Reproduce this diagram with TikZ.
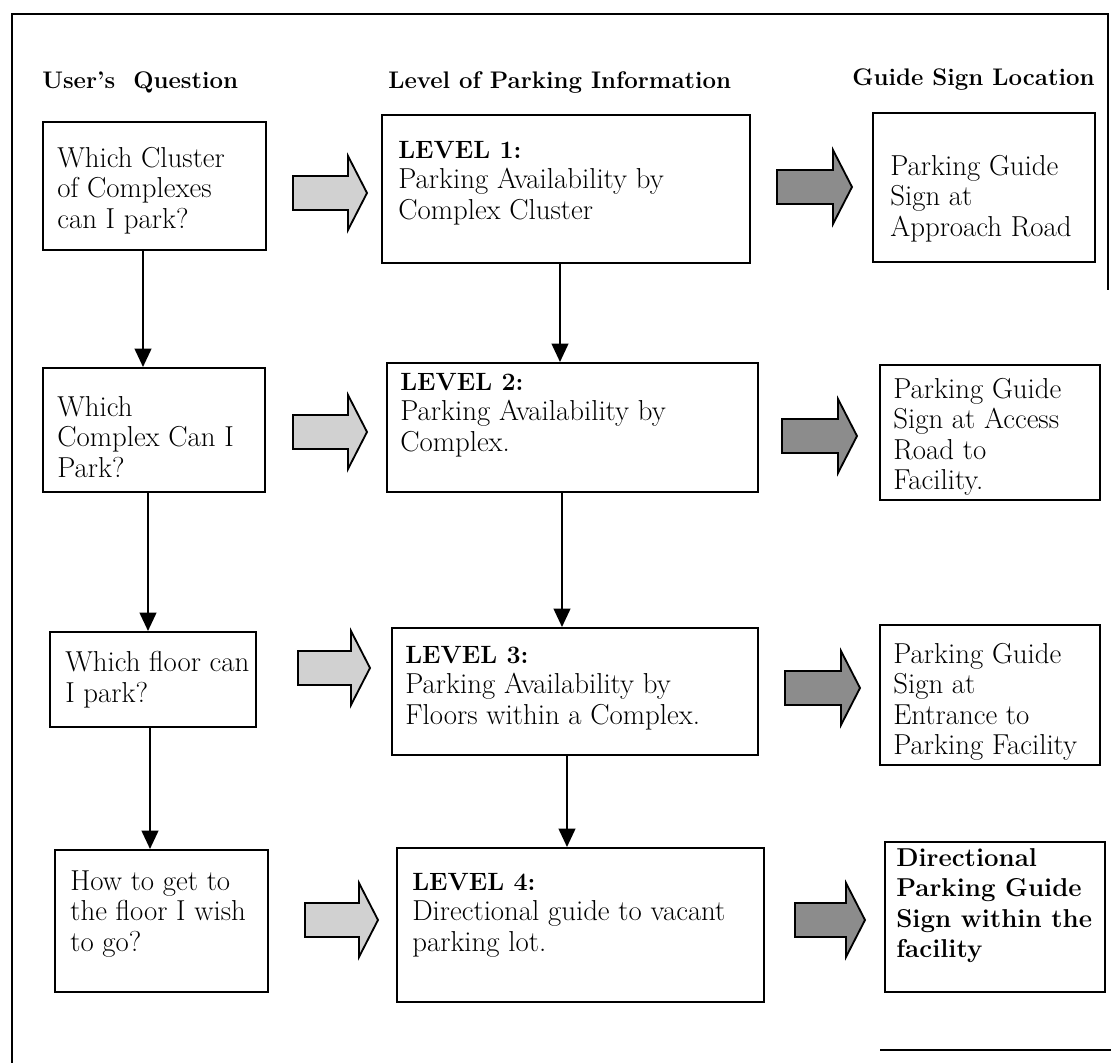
\documentclass[tikz,border=0pt]{standalone}
\usetikzlibrary{fit,arrows.meta}
\newcommand\blockarr[4]{%
  \draw[#1] ({#2},{#4-17}) -- ({#3-19},{#4-17}) -- ({#3-19},{#4-37}) -- ({#3},{#4})
    -- ({#3-19},{#4+37}) -- ({#3-19},{#4+17}) -- ({#2},{#4+17}) -- cycle;}
\newcommand\lvl[1]{{\fontsize{15}{18.3}\selectfont\bfseries #1}}
\begin{document}
\begin{tikzpicture}[x=0.6pt,y=-0.6pt,
  frameline/.style={line width=1.3pt},
  boxst/.style={draw, line width=1.2pt, inner sep=0pt},
  txt/.style={inner sep=0pt, anchor=north west, align=left, font=\fontsize{17.3}{18.3}\selectfont},
  btxt/.style={txt, font=\fontsize{15.5}{18.3}\selectfont\bfseries},
  hdr/.style={inner sep=0pt, anchor=base west, font=\fontsize{14.4}{17}\selectfont\bfseries},
  varrow/.style={line width=1.2pt, -{Triangle[length=11pt,width=10pt]}},
  lightarr/.style={draw, line width=1.1pt, fill=black!18},
  darkarr/.style={draw, line width=1.1pt, fill=black!45}]
\useasboundingbox (0,0) rectangle (1111,1063);
% outer frame
\draw[frameline] (12,1063) -- (12,14) -- (1108,14) -- (1108,290);
\draw[frameline] (880,1050) -- (1111,1050);
% headers
\node[hdr] (h1) at (42,89) {User’s\ \ Question};
\node[hdr] (h2) at (388,89) {Level of Parking Information};
\node[hdr] (h3) at (852,86) {Guide Sign Location};
% boxes
\node[boxst, fit={(43,122)(266,250)}] (u1) {};
\node[boxst, fit={(43,368)(265,492)}] (u2) {};
\node[boxst, fit={(50,632)(256,727)}] (u3) {};
\node[boxst, fit={(55,850)(268,992)}] (u4) {};
\node[boxst, fit={(382,115)(750,263)}] (l1) {};
\node[boxst, fit={(387,363)(758,492)}] (l2) {};
\node[boxst, fit={(392,628)(758,755)}] (l3) {};
\node[boxst, fit={(397,848)(764,1002)}] (l4) {};
\node[boxst, fit={(873,113)(1095,262)}] (g1) {};
\node[boxst, fit={(880,365)(1100,500)}] (g2) {};
\node[boxst, fit={(880,625)(1100,765)}] (g3) {};
\node[boxst, fit={(885,842)(1105,992)}] (g4) {};
% texts
\node[txt] (u1t) at (57,147) {Which Cluster\\of Complexes\\can I park?};
\node[txt] (u2t) at (57,396) {Which\\Complex Can I\\Park?};
\node[txt] (u3t) at (65,651) {Which floor can\\I park?};
\node[txt] (u4t) at (70,870) {How to get to\\the floor I wish\\to go?};
\node[txt] (l1t) at (398,141) {\lvl{LEVEL 1:}\\Parking Availability by\\Complex Cluster};
\node[txt] (l2t) at (400,373) {\lvl{LEVEL 2:}\\Parking Availability by\\Complex.};
\node[txt] (l3t) at (405,646) {\lvl{LEVEL 3:}\\Parking Availability by\\Floors within a Complex.};
\node[txt] (l4t) at (412,873) {\lvl{LEVEL 4:}\\Directional guide to vacant\\parking lot.};
\node[txt] (g1t) at (890,155) {Parking Guide\\Sign at\\Approach Road};
\node[txt] (g2t) at (893,378) {Parking Guide\\Sign at Access\\Road to\\Facility.};
\node[txt] (g3t) at (893,643) {Parking Guide\\Sign at\\Entrance to\\Parking Facility};
\node[btxt] (g4t) at (896,848) {Directional\\Parking Guide\\Sign within the\\facility};
% vertical arrows
\coordinate (v1) at (143,0); \coordinate (v2) at (148,0); \coordinate (v3) at (150,0);
\coordinate (w1) at (560,0); \coordinate (w2) at (562,0); \coordinate (w3) at (567,0);
\draw[varrow] (u1.south -| v1) -- (u2.north -| v1);
\draw[varrow] (u2.south -| v2) -- (u3.north -| v2);
\draw[varrow] (u3.south -| v3) -- (u4.north -| v3);
\draw[varrow] (l1.south -| w1) -- (l2.north -| w1);
\draw[varrow] (l2.south -| w2) -- (l3.north -| w2);
\draw[varrow] (l3.south -| w3) -- (l4.north -| w3);
% block arrows
\blockarr{lightarr}{293}{367}{193}
\blockarr{lightarr}{293}{367}{432}
\blockarr{lightarr}{298}{370}{668}
\blockarr{lightarr}{305}{378}{920}
\blockarr{darkarr}{777}{852}{187}
\blockarr{darkarr}{782}{857}{436}
\blockarr{darkarr}{785}{860}{688}
\blockarr{darkarr}{795}{865}{920}
\end{tikzpicture}
\end{document}
